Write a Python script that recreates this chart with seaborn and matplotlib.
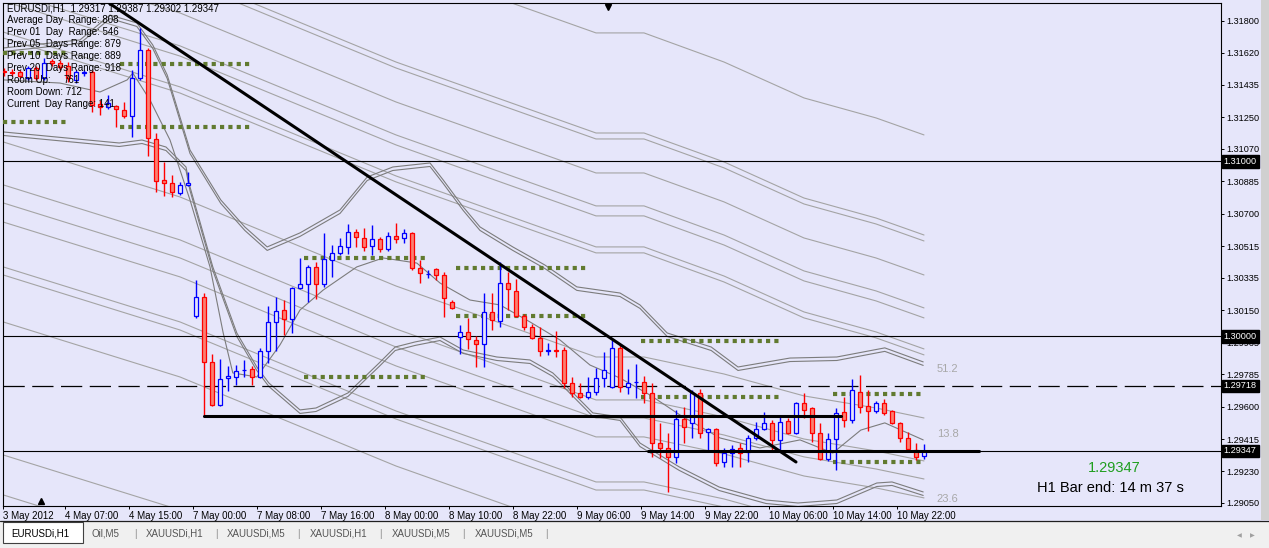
import numpy as np
import pandas as pd
import matplotlib
matplotlib.use("Agg")
import matplotlib.pyplot as plt
import matplotlib.transforms as mtransforms
from matplotlib.patches import Rectangle
import seaborn as sns

# EURUSDi H1 candles, oldest first (last bar = 11 May 01:00)
opens = [1.31515, 1.31509, 1.31509, 1.31475, 1.31532, 1.31475, 1.31572, 1.31561, 1.31543, 1.31464,
         1.31506, 1.31509, 1.31327, 1.31310, 1.31315, 1.31292, 1.31258, 1.31475, 1.31635, 1.31127,
         1.30893, 1.30876, 1.30819, 1.30865, 1.30117, 1.30226, 1.29855, 1.29609, 1.29763, 1.29769,
         1.29806, 1.29815, 1.29769, 1.29917, 1.30083, 1.30151, 1.30100, 1.30277, 1.30300, 1.30397,
         1.30300, 1.30437, 1.30477, 1.30511, 1.30596, 1.30562, 1.30516, 1.30556, 1.30499, 1.30573,
         1.30562, 1.30591, 1.30391, 1.30354, 1.30385, 1.30351, 1.30197, 1.29997, 1.30026, 1.29980,
         1.29957, 1.30140, 1.30089, 1.30305, 1.30260, 1.30117, 1.30054, 1.29991, 1.29917, 1.29923,
         1.29923, 1.29735, 1.29678, 1.29655, 1.29683, 1.29763, 1.29712, 1.29935, 1.29712, 1.29738,
         1.29740, 1.29678, 1.29392, 1.29364, 1.29313, 1.29529, 1.29507, 1.29678, 1.29455, 1.29472,
         1.29284, 1.29335, 1.29364, 1.29341, 1.29421, 1.29472, 1.29507, 1.29410, 1.29518, 1.29450,
         1.29621, 1.29592, 1.29450, 1.29301, 1.29415, 1.29569, 1.29524, 1.29683, 1.29604, 1.29575,
         1.29621, 1.29575, 1.29507, 1.29421, 1.29353, 1.29317]
highs = [1.31532, 1.31526, 1.31521, 1.31543, 1.31543, 1.31589, 1.31583, 1.31578, 1.31566, 1.31521,
         1.31521, 1.31521, 1.31349, 1.31378, 1.31321, 1.31338, 1.31521, 1.31760, 1.31646, 1.31161,
         1.30996, 1.30922, 1.30882, 1.30939, 1.30323, 1.30248, 1.29900, 1.29872, 1.29832, 1.29838,
         1.29866, 1.29832, 1.29935, 1.30174, 1.30226, 1.30208, 1.30283, 1.30448, 1.30408, 1.30425,
         1.30591, 1.30522, 1.30562, 1.30642, 1.30613, 1.30619, 1.30636, 1.30568, 1.30596, 1.30648,
         1.30613, 1.30596, 1.30437, 1.30380, 1.30391, 1.30368, 1.30208, 1.30066, 1.30106, 1.30003,
         1.30248, 1.30248, 1.30425, 1.30368, 1.30328, 1.30129, 1.30071, 1.30054, 1.29963, 1.30031,
         1.29940, 1.29769, 1.29735, 1.29769, 1.29820, 1.29912, 1.29980, 1.29952, 1.29815, 1.29843,
         1.29775, 1.29735, 1.29507, 1.29450, 1.29581, 1.29598, 1.29695, 1.29701, 1.29478, 1.29478,
         1.29364, 1.29381, 1.29392, 1.29438, 1.29512, 1.29569, 1.29524, 1.29541, 1.29535, 1.29626,
         1.29678, 1.29598, 1.29507, 1.29450, 1.29592, 1.29655, 1.29758, 1.29780, 1.29695, 1.29632,
         1.29643, 1.29581, 1.29512, 1.29455, 1.29392, 1.29387]
lows = [1.31486, 1.31486, 1.31475, 1.31464, 1.31464, 1.31464, 1.31543, 1.31521, 1.31452, 1.31446,
        1.31486, 1.31281, 1.31264, 1.31298, 1.31195, 1.31247, 1.31138, 1.31464, 1.31030, 1.30825,
        1.30802, 1.30796, 1.30807, 1.30859, 1.30106, 1.29541, 1.29604, 1.29604, 1.29689, 1.29723,
        1.29769, 1.29723, 1.29763, 1.29849, 1.29917, 1.30009, 1.30020, 1.30271, 1.30197, 1.30214,
        1.30283, 1.30340, 1.30465, 1.30471, 1.30511, 1.30488, 1.30465, 1.30482, 1.30488, 1.30534,
        1.30534, 1.30380, 1.30305, 1.30334, 1.30323, 1.30111, 1.30157, 1.29900, 1.29929, 1.29826,
        1.29826, 1.30037, 1.30054, 1.30151, 1.30111, 1.30037, 1.29986, 1.29889, 1.29894, 1.29883,
        1.29706, 1.29655, 1.29649, 1.29643, 1.29666, 1.29712, 1.29706, 1.29683, 1.29672, 1.29649,
        1.29621, 1.29313, 1.29307, 1.29113, 1.29278, 1.29392, 1.29421, 1.29421, 1.29341, 1.29261,
        1.29256, 1.29256, 1.29256, 1.29284, 1.29410, 1.29466, 1.29347, 1.29341, 1.29444, 1.29444,
        1.29535, 1.29398, 1.29295, 1.29290, 1.29238, 1.29484, 1.29507, 1.29564, 1.29461, 1.29564,
        1.29552, 1.29501, 1.29398, 1.29341, 1.29295, 1.29302]
closes = [1.31509, 1.31503, 1.31486, 1.31532, 1.31475, 1.31561, 1.31561, 1.31538, 1.31475, 1.31509,
          1.31509, 1.31321, 1.31310, 1.31332, 1.31298, 1.31258, 1.31475, 1.31635, 1.31133, 1.30887,
          1.30876, 1.30825, 1.30865, 1.30876, 1.30226, 1.29855, 1.29609, 1.29758, 1.29775, 1.29803,
          1.29809, 1.29769, 1.29917, 1.30083, 1.30146, 1.30100, 1.30277, 1.30300, 1.30397, 1.30300,
          1.30442, 1.30477, 1.30516, 1.30596, 1.30568, 1.30511, 1.30556, 1.30499, 1.30573, 1.30556,
          1.30591, 1.30391, 1.30362, 1.30357, 1.30351, 1.30220, 1.30163, 1.30026, 1.29986, 1.29957,
          1.30140, 1.30094, 1.30305, 1.30271, 1.30117, 1.30054, 1.29991, 1.29917, 1.29923, 1.29917,
          1.29735, 1.29678, 1.29655, 1.29683, 1.29763, 1.29809, 1.29935, 1.29712, 1.29735, 1.29740,
          1.29678, 1.29392, 1.29364, 1.29313, 1.29529, 1.29484, 1.29678, 1.29450, 1.29472, 1.29278,
          1.29335, 1.29358, 1.29335, 1.29421, 1.29472, 1.29507, 1.29410, 1.29512, 1.29450, 1.29621,
          1.29581, 1.29450, 1.29301, 1.29415, 1.29564, 1.29524, 1.29695, 1.29598, 1.29575, 1.29621,
          1.29564, 1.29507, 1.29421, 1.29358, 1.29313, 1.29347]

time_labels = ["3 May 2012", "4 May 07:00", "4 May 15:00", "7 May 00:00", "7 May 08:00",
               "7 May 16:00", "8 May 00:00", "8 May 10:00", "8 May 22:00", "9 May 06:00",
               "9 May 14:00", "9 May 22:00", "10 May 06:00", "10 May 14:00", "10 May 22:00"]
price_ticks = [1.31800, 1.31620, 1.31435, 1.31250, 1.31070, 1.30885, 1.30700, 1.30515,
               1.30335, 1.30150, 1.29965, 1.29785, 1.29600, 1.29415, 1.29230, 1.29050]

# bands (double lines) and middle line, read at bar positions
upper_bar = [-0.1, 9.5, 13.25, 16.6, 18.6, 20.4, 23.25, 27.1, 30.1, 32.9, 37, 42, 45.4, 48.6, 53.25,
             54.9, 57.4, 59.5, 63.6, 67.6, 71.6, 77, 79.5, 82.9, 88.4, 91.75, 98.25, 104.1, 110.1, 114.9]
upper_band = [1.31646, 1.31692, 1.31834, 1.31789, 1.31663, 1.31492, 1.31064, 1.30779, 1.30625,
              1.30511, 1.30591, 1.30722, 1.30910, 1.30967, 1.30990, 1.30893, 1.30739, 1.30625,
              1.30511, 1.30408, 1.30283, 1.30248, 1.30180, 1.30020, 1.29940, 1.29826, 1.29877,
              1.29883, 1.29935, 1.29855]
lower_bar = [-0.1, 14.4, 17.25, 20.25, 22.75, 23.25, 26.1, 29.1, 31.6, 33.1, 37, 39, 43, 46.9, 48.9,
             51.4, 54.5, 57.4, 61.6, 65.75, 68.6, 69.9, 73.6, 77, 79.5, 84.4, 89.4, 95.25, 99.25,
             104.1, 109.1, 111, 114.9]
lower_band = [1.31167, 1.31104, 1.31121, 1.31081, 1.30967, 1.30853, 1.30397, 1.30020, 1.29826,
              1.29735, 1.29581, 1.29592, 1.29678, 1.29849, 1.29940, 1.29969, 1.29997, 1.29923,
              1.29883, 1.29866, 1.29792, 1.29735, 1.29564, 1.29541, 1.29392, 1.29256, 1.29141,
              1.29067, 1.29050, 1.29067, 1.29164, 1.29170, 1.29113]
mid_bar = [-0.1, 7, 12, 15.4, 16.1, 18.25, 20.75, 23.25, 25.75, 27.4, 28.6, 31.6, 34.5, 37, 39.9,
           44.1, 47.4, 51.6, 54.5, 58.25, 62, 65.75, 69.5, 73.25, 77, 80.75, 84.5, 89.5, 94.5, 99.5,
           103.6, 107.1, 110.1, 114.9]
mid_line = [1.31464, 1.31446, 1.31395, 1.31464, 1.31503, 1.31349, 1.31121, 1.30779, 1.30397,
            1.30020, 1.29792, 1.29769, 1.29952, 1.30151, 1.30265, 1.30397, 1.30448, 1.30419,
            1.30305, 1.30208, 1.30180, 1.30083, 1.29980, 1.29837, 1.29763, 1.29666, 1.29552,
            1.29421, 1.29364, 1.29410, 1.29335, 1.29466, 1.29507, 1.29410]

# long envelopes (light gray)
env_bar = [-0.1, 22, 49, 74, 80, 90, 100, 109, 115]
env_upper = [
    [1.32958, 1.32645, 1.32137, 1.31732, 1.31732, 1.31566, 1.31361, 1.31247, 1.31150],
    [1.32388, 1.32074, 1.31566, 1.31161, 1.31161, 1.30996, 1.30790, 1.30676, 1.30579],
    [1.32354, 1.32040, 1.31532, 1.31127, 1.31127, 1.30962, 1.30756, 1.30642, 1.30545],
    [1.32160, 1.31846, 1.31338, 1.30933, 1.30933, 1.30768, 1.30562, 1.30448, 1.30351],
    [1.31971, 1.31658, 1.31150, 1.30745, 1.30745, 1.30579, 1.30374, 1.30260, 1.30163],
    [1.31914, 1.31600, 1.31093, 1.30688, 1.30688, 1.30522, 1.30317, 1.30203, 1.30106],
    [1.31737, 1.31424, 1.30916, 1.30511, 1.30511, 1.30345, 1.30140, 1.30026, 1.29929],
    [1.31703, 1.31389, 1.30882, 1.30477, 1.30477, 1.30311, 1.30106, 1.29992, 1.29895],
]
env_lower = [
    [1.31110, 1.30796, 1.30288, 1.29883, 1.29883, 1.29786, 1.29661, 1.29592, 1.29535],
    [1.30865, 1.30551, 1.30043, 1.29638, 1.29638, 1.29541, 1.29415, 1.29347, 1.29290],
    [1.30762, 1.30448, 1.29940, 1.29535, 1.29535, 1.29438, 1.29313, 1.29244, 1.29187],
    [1.30653, 1.30340, 1.29832, 1.29427, 1.29427, 1.29330, 1.29204, 1.29136, 1.29079],
    [1.30397, 1.30083, 1.29575, 1.29170, 1.29170, 1.29073, 1.28947, 1.28879, 1.28822],
    [1.30351, 1.30037, 1.29529, 1.29124, 1.29124, 1.29027, 1.28902, 1.28833, 1.28776],
    [1.30083, 1.29769, 1.29261, 1.28856, 1.28856, 1.28759, 1.28634, 1.28566, 1.28509],
    [1.29324, 1.29010, 1.28502, 1.28097, 1.28097, 1.28000, 1.27875, 1.27806, 1.27749],
    [1.29096, 1.28782, 1.28274, 1.27869, 1.27869, 1.27772, 1.27647, 1.27578, 1.27521],
]

# daily high/low boxes (green dotted)
box_start = [-0.1, 14.5, 37.5, 56.5, 79.6, 103.6]
box_end = [8.0, 31.1, 53.1, 73.1, 97.0, 115.0]
box_high = [1.31618, 1.31555, 1.30448, 1.30391, 1.29974, 1.29672]
box_low = [1.31224, 1.31195, 1.29769, 1.30117, 1.29655, 1.29284]

trend_bar = [13.1, 99.0]
trend_price = [1.31903, 1.29284]
support_bar = [25.0, 104.6]
support_price = 1.29549
bid_bar = [80.5, 121.9]
bid_price = 1.29347
round_levels = [1.31000, 1.30000]
dash_level = 1.29718
boxed_levels = [1.31000, 1.30000, 1.29718, 1.29347]
fib_labels = ["51.2", "13.8", "23.6"]
fib_prices = [1.29815, 1.29444, 1.29073]

info_lines = ["EURUSDi,H1  1.29317 1.29387 1.29302 1.29347",
              "Average Day  Range: 808",
              "Prev 01  Day  Range: 546",
              "Prev 05  Days Range: 879",
              "Prev 10  Days Range: 889",
              "Prev 20  Days Range: 918",
              "Room Up:",
              "Room Down: 712",
              "Current  Day Range: 141"]
room_up = "761"
tabs = ["EURUSDi,H1", "Oil,M5", "XAUUSDi,H1", "XAUUSDi,M5", "XAUUSDi,H1", "XAUUSDi,M5", "XAUUSDi,M5"]

sns.set_theme(style="white")
plt.rcParams['font.family'] = ['Liberation Sans', 'DejaVu Sans']

BG = '#e6e6fa'
W, H = 1269, 548
fig = plt.figure(figsize=(W / 100, H / 100), dpi=100, facecolor=BG)
ax = fig.add_axes([3 / W, 1 - 506 / H, 1218 / W, 503 / H], facecolor=BG)


def fx(px):
    return px / W


def fy(py):
    return 1 - py / H


# envelopes
for env in env_upper + env_lower:
    sns.lineplot(x=env_bar, y=env, ax=ax, color='#a4a4a4', lw=0.8, sort=False,
                 estimator=None, legend=False, zorder=1)

# double bands
shift = mtransforms.ScaledTranslation(0, -0.035, fig.dpi_scale_trans)
for bx, by in [(upper_bar, upper_band), (lower_bar, lower_band)]:
    sns.lineplot(x=bx, y=by, ax=ax, color='#7c7c7c', lw=0.8, sort=False,
                 estimator=None, legend=False, zorder=2)
    ax.plot(bx, by, color='#7c7c7c', lw=0.8, zorder=2, transform=ax.transData + shift)
sns.lineplot(x=mid_bar, y=mid_line, ax=ax, color='#7c7c7c', lw=0.8, sort=False,
             estimator=None, legend=False, zorder=2)

# horizontal levels
for lv in round_levels:
    ax.axhline(lv, color='black', lw=0.8, zorder=3)
ax.axhline(dash_level, color='black', lw=0.9, ls=(0, (17, 6)), zorder=3)
ax.axhline(bid_price, color='black', lw=0.8, zorder=3)

# green dotted daily boxes
for s, e, hi, lo in zip(box_start, box_end, box_high, box_low):
    for lv in (hi, lo):
        ax.plot([s, e], [lv, lv], color='#617a30', lw=3, ls=(0, (1, 1)),
                dash_capstyle='butt', zorder=3)

# candles
df = pd.DataFrame({'bar': np.arange(len(opens)), 'o': opens, 'h': highs, 'l': lows, 'c': closes})
up = (df['c'] >= df['o']).values
edge = np.where(up, '#0000ff', '#ff0000')
fill = np.where(up, BG, '#fa8072')
ax.vlines(df['bar'], df['l'], df['h'], colors=edge, lw=1.0, zorder=4)
body_lo = np.minimum(df['o'], df['c'])
body_h = np.maximum((df['c'] - df['o']).abs(), 0.00002)
ax.bar(df['bar'], body_h, bottom=body_lo, width=0.62, color=fill, edgecolor=edge,
       linewidth=0.9, zorder=5)

# drawn objects
ax.plot(trend_bar, trend_price, color='black', lw=2.2, zorder=6)
ax.plot(support_bar, [support_price] * 2, color='black', lw=2.2, zorder=6)
ax.plot(bid_bar, [bid_price] * 2, color='black', lw=2.2, zorder=6)
for lab, pr in zip(fib_labels, fib_prices):
    ax.text(116.6, pr, lab, color='#a8a8a8', fontsize=8, ha='left', va='center', zorder=6)

ax.plot([75.5], [1.31880], marker='v', color='black', ms=5, clip_on=False, zorder=7)
ax.plot([4.6], [1.29060], marker='^', color='black', ms=5, clip_on=False, zorder=7)

ax.set_xlim(-0.125, 152.125)
ax.set_ylim(1.290328, 1.319027)

# axes
ax.yaxis.tick_right()
ax.set_yticks(price_ticks)
ax.set_yticklabels([f"{p:.5f}" for p in price_ticks])
ax.tick_params(axis='y', direction='out', length=2.2, width=0.7, pad=1.5,
               labelsize=6.6, colors='black', right=True, left=False)
xt = [max(8 * k - 0.375, -0.1) for k in range(len(time_labels))]
ax.set_xticks(xt)
ax.set_xticklabels(time_labels)
ax.tick_params(axis='x', direction='out', length=2.2, width=0.7, pad=1.5,
               labelsize=7, colors='black', bottom=True)
for t in ax.get_xticklabels():
    t.set_ha('left')
for sp in ax.spines.values():
    sp.set_color('black')
    sp.set_linewidth(0.8)

ybl = mtransforms.blended_transform_factory(ax.transAxes, ax.transData)
for lv in boxed_levels:
    ax.text(1.0023, lv, f"{lv:.5f}", transform=ybl, color='white', fontsize=6.6,
            ha='left', va='center', zorder=8, clip_on=False,
            bbox=dict(boxstyle='square,pad=0.2', fc='black', ec='black'))

# info block
for i, line in enumerate(info_lines):
    fig.text(fx(7), fy(8.3 + 11.95 * i), line, fontsize=7, color='black', va='center')
fig.text(fx(63), fy(8.3 + 11.95 * 6), room_up, fontsize=7, color='black', va='center')

fig.text(fx(1088), fy(468), "1.29347", fontsize=10.5, color='#1f9e1f', va='center')
fig.text(fx(1037), fy(488), "H1 Bar end: 14 m 37 s", fontsize=10.5, color='black', va='center')

# window chrome: scrollbar strip and tab bar
fig.patches.append(Rectangle((fx(1261), fy(520)), fx(8), 520 / H, transform=fig.transFigure,
                             fc='#d0d0d0', ec='none', zorder=0))
fig.patches.append(Rectangle((0, 0), 1, 27.5 / H, transform=fig.transFigure,
                             fc='#f0f0f0', ec='none', zorder=0))
fig.lines.append(plt.Line2D([0, 1], [fy(520.7), fy(520.7)], transform=fig.transFigure,
                            color='#202020', lw=0.9))
fig.patches.append(Rectangle((fx(3), fy(543)), fx(80), 21 / H, transform=fig.transFigure,
                             fc='white', ec='#404040', lw=0.8, zorder=1))
tab_x = [11, 92, 146, 227, 310, 392, 475]
sep_x = [135, 216, 298, 380, 463, 546]
for i, (tx, name) in enumerate(zip(tab_x, tabs)):
    fig.text(fx(tx), fy(534), name, fontsize=7, color='black' if i == 0 else '#555555',
             va='center', zorder=2)
for sx in sep_x:
    fig.text(fx(sx), fy(534), "|", fontsize=7, color='#888888', va='center', ha='center')
fig.text(fx(1237), fy(536), "\u25c0", fontsize=4.5, color='#a0a0a0', va='center',
         family='DejaVu Sans')
fig.text(fx(1250), fy(536), "\u25b6", fontsize=4.5, color='#a0a0a0', va='center',
         family='DejaVu Sans')

fig.savefig('out.png', dpi=100, facecolor=BG)
